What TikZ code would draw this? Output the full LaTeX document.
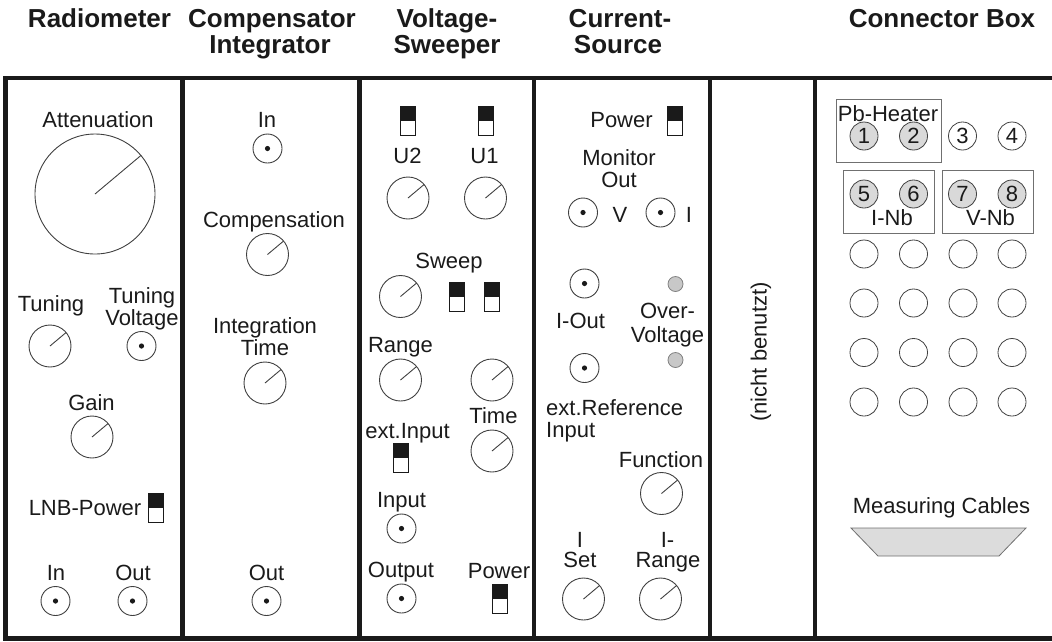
\documentclass[tikz,border=0pt]{standalone}
\usepackage{fontspec}
\setmainfont{Liberation Sans}
\definecolor{ink}{HTML}{1A1A1A}
\definecolor{lineclr}{HTML}{404040}
\definecolor{ledgray}{HTML}{C8C8C8}
\definecolor{sockgray}{HTML}{D9D9D9}
\definecolor{boxgray}{HTML}{707070}
\definecolor{trapgray}{HTML}{DCDCDC}
\begin{document}
\begin{tikzpicture}[x=1pt,y=-1pt,
  lab/.style={anchor=base,inner sep=0pt,font=\fontsize{22}{22}\selectfont,text=ink},
  ttl/.style={anchor=base,inner sep=0pt,font=\fontsize{26}{26}\selectfont\bfseries,text=ink},
  knob/.style={circle,draw=lineclr,line width=0.9pt,minimum size=42pt,inner sep=0pt,outer sep=0pt},
  bigknob/.style={knob,minimum size=120pt},
  ptr/.style={draw=lineclr,line width=0.9pt},
  jack/.style={circle,draw=lineclr,line width=0.9pt,minimum size=29pt,inner sep=0pt,outer sep=0pt,
    path picture={\fill[ink] (path picture bounding box.center) circle (2.6pt);}},
  sw/.style={rectangle,draw=ink,line width=0.8pt,minimum width=15pt,minimum height=29pt,inner sep=0pt,outer sep=0pt,
    path picture={\fill[ink] (path picture bounding box.north west) rectangle (path picture bounding box.east);}},
  led/.style={circle,draw=gray,fill=ledgray,line width=0.8pt,minimum size=15pt,inner sep=0pt},
  sock/.style={circle,draw=lineclr,line width=0.8pt,minimum size=28pt,inner sep=0pt,text=ink,font=\fontsize{22}{22}\selectfont},
  socknum/.style={sock,fill=sockgray},
  grp/.style={draw=boxgray,line width=0.8pt},
  frame/.style={draw=ink,line width=4.5pt}
]
\useasboundingbox (0,0) rectangle (1052,641);
% frame
\draw[frame] (5.5,78) rectangle (1070,638.5);
\foreach \xx in {182.5,359.5,534,710,815} \draw[frame] (\xx,78) -- (\xx,638.5);

% ---------- Radiometer
\node[ttl] (tRad) at (99.5,27.5) {Radiometer};
\node[lab] (lAtt) at (98,127.5) {Attenuation};
\node[bigknob] (kAtt) at (95,194) {};
\draw[ptr] (kAtt.center) -- (kAtt.40);
\node[lab] (lTun) at (51,311.5) {Tuning};
\node[lab] (lTv1) at (142,303.5) {Tuning};
\node[lab] (lTv2) at (142,325) {Voltage};
\node[knob] (kTun) at (50,346) {};
\draw[ptr] (kTun.center) -- (kTun.40);
\node[jack] (jTv) at (141.5,346) {};
\node[lab] (lGain) at (91.5,410.5) {Gain};
\node[knob] (kGain) at (92,437) {};
\draw[ptr] (kGain.center) -- (kGain.40);
\node[lab] (lLnb) at (85,515.5) {LNB-Power};
\node[sw] (sLnb) at (155.5,507.5) {};
\node[lab] (lIn) at (56,580.5) {In};
\node[jack] (jIn) at (55.5,601) {};
\node[lab] (lOut) at (133,580.5) {Out};
\node[jack] (jOut) at (132.5,601) {};

% ---------- Compensator Integrator
\node[ttl] (tCo1) at (272,27.5) {Compensator};
\node[ttl] (tCo2) at (270,53) {Integrator};
\node[lab] (lCIn) at (267,127.5) {In};
\node[jack] (jCIn) at (267.5,148.5) {};
\node[lab] (lComp) at (274,227.5) {Compensation};
\node[knob] (kComp) at (267.5,254.5) {};
\draw[ptr] (kComp.center) -- (kComp.40);
\node[lab] (lInt1) at (265,333.5) {Integration};
\node[lab] (lInt2) at (265,355.5) {Time};
\node[knob] (kInt) at (265,383) {};
\draw[ptr] (kInt.center) -- (kInt.40);
\node[lab] (lCOut) at (266.5,580.5) {Out};
\node[jack] (jCOut) at (266.5,601) {};

% ---------- Voltage-Sweeper
\node[ttl] (tVs1) at (447,27.5) {Voltage-};
\node[ttl] (tVs2) at (447,53) {Sweeper};
\node[sw] (sU2) at (408.2,120.5) {};
\node[sw] (sU1) at (485.5,120.5) {};
\node[lab] (lU2) at (407.5,163.5) {U2};
\node[lab] (lU1) at (484.5,163.5) {U1};
\node[knob] (kU2) at (408,198) {};
\draw[ptr] (kU2.center) -- (kU2.40);
\node[knob] (kU1) at (485.5,198) {};
\draw[ptr] (kU1.center) -- (kU1.40);
\node[lab] (lSweep) at (449,268.5) {Sweep};
\node[knob] (kSweep) at (400.5,296.5) {};
\draw[ptr] (kSweep.center) -- (kSweep.40);
\node[sw] (sSw1) at (457,296.5) {};
\node[sw] (sSw2) at (492,296.5) {};
\node[lab] (lRange) at (400.5,352.5) {Range};
\node[knob] (kRange) at (400.5,380) {};
\draw[ptr] (kRange.center) -- (kRange.40);
\node[knob] (kR2) at (492,380) {};
\draw[ptr] (kR2.center) -- (kR2.40);
\node[lab] (lTime) at (493.5,423.5) {Time};
\node[knob] (kTime) at (492,451) {};
\draw[ptr] (kTime.center) -- (kTime.40);
\node[lab] (lExt) at (407.5,438.5) {ext.Input};
\node[sw] (sExt) at (400.5,457.5) {};
\node[lab] (lInp) at (401.5,507.5) {Input};
\node[jack] (jInp) at (401.5,528.5) {};
\node[lab] (lOutp) at (401,577.5) {Output};
\node[jack] (jOutp) at (401.5,598.5) {};
\node[lab] (lVPow) at (499,578.5) {Power};
\node[sw] (sVPow) at (499.5,599) {};

% ---------- Current-Source
\node[ttl] (tCs1) at (620,27.5) {Current-};
\node[ttl] (tCs2) at (618,53) {Source};
\node[lab] (lCPow) at (621.5,127.5) {Power};
\node[sw] (sCPow) at (674.5,120.5) {};
\node[lab] (lMon1) at (619,165.5) {Monitor};
\node[lab] (lMon2) at (619,187.5) {Out};
\node[jack] (jV) at (583,212.5) {};
\node[lab] (lV) at (620,222.5) {V};
\node[jack] (jI) at (660.5,212.5) {};
\node[lab] (lI) at (689,222.5) {I};
\node[jack] (jIOut) at (584.5,283.5) {};
\node[led] (led1) at (675.5,284) {};
\node[lab] (lIOut) at (580.5,328.5) {I-Out};
\node[lab] (lOv1) at (667.5,318.5) {Over-};
\node[lab] (lOv2) at (667.5,342) {Voltage};
\node[led] (led2) at (675.5,360) {};
\node[jack] (jRef) at (584.5,368) {};
\node[lab,anchor=base west] (lRef1) at (546,415.5) {ext.Reference};
\node[lab,anchor=base west] (lRef2) at (546,437.5) {Input};
\node[lab] (lFun) at (661,467.5) {Function};
\node[knob] (kFun) at (661.5,493.5) {};
\draw[ptr] (kFun.center) -- (kFun.40);
\node[lab] (lSet1) at (580,547) {I};
\node[lab] (lSet2) at (580,567) {Set};
\node[lab] (lRg1) at (667.5,547) {I-};
\node[lab] (lRg2) at (668,567) {Range};
\node[knob] (kSet) at (583.5,599) {};
\draw[ptr] (kSet.center) -- (kSet.40);
\node[knob] (kIRg) at (660.5,599) {};
\draw[ptr] (kIRg.center) -- (kIRg.40);

% ---------- nicht benutzt
\node[lab,anchor=center,rotate=90] (lNb) at (761,352) {(nicht benutzt)};

% ---------- Connector Box
\node[ttl] (tCb) at (942,27.5) {Connector Box};
\draw[grp] (836,99) rectangle (941,162);
\node[lab] (lPb) at (888,121) {Pb-Heater};
\node[socknum] (c1) at (864,136) {1};
\node[socknum] (c2) at (913.5,136) {2};
\node[sock] (c3) at (962.5,136) {3};
\node[sock] (c4) at (1012,136) {4};
\draw[grp] (843,170) rectangle (934,233);
\draw[grp] (942,170) rectangle (1033,233);
\node[socknum] (c5) at (864,194) {5};
\node[socknum] (c6) at (913.5,194) {6};
\node[socknum] (c7) at (962.5,194) {7};
\node[socknum] (c8) at (1012,194) {8};
\node[lab] (lINb) at (892,225.5) {I-Nb};
\node[lab] (lVNb) at (990.5,225.5) {V-Nb};
\foreach \r/\yy in {1/254,2/303,3/352.5,4/402}
  \foreach \c/\xx in {1/864,2/913.5,3/963,4/1012}
    \node[sock] (s\r\c) at (\xx,\yy) {};
\node[lab] (lMeas) at (941.5,513.5) {Measuring Cables};
\draw[fill=trapgray,draw=boxgray,line width=0.8pt] (851,528) -- (1026,528) -- (999,556) -- (878,556) -- cycle;
\end{tikzpicture}
\end{document}
